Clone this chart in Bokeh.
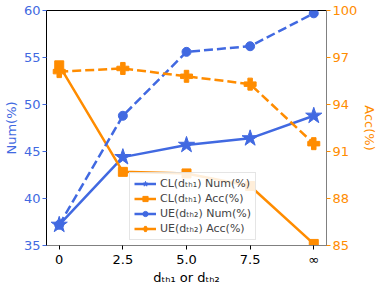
from bokeh.plotting import figure
from bokeh.models import Range1d, LinearAxis, FixedTicker, Legend, LegendItem
from bokeh.embed import file_html
from bokeh.resources import INLINE

x_labels = ["0", "2.5", "5.0", "7.5", "∞"]
x_pos = [0, 1, 2, 3, 4]
cl_num = [37.2, 44.4, 45.7, 46.4, 48.8]
ue_num = [37.2, 48.8, 55.6, 56.2, 59.7]
cl_acc = [96.5, 89.7, 89.6, 88.8, 85.1]
ue_acc = [96.1, 96.3, 95.8, 95.3, 91.5]
num_ticks = [35, 40, 45, 50, 55, 60]
acc_ticks = [85, 88, 91, 94, 97, 100]

BLUE = "#4169E1"
ORANGE = "#FF8C00"
FONT = "DejaVu Sans"

p = figure(width=388, height=287, output_backend="svg", toolbar_location=None,
           x_range=Range1d(-0.2, 4.2), y_range=Range1d(35, 60),
           min_border_left=37, min_border_right=62, min_border_top=10, min_border_bottom=0)
p.extra_y_ranges = {"acc": Range1d(85, 100)}
p.xgrid.visible = False
p.ygrid.visible = False
p.outline_line_color = "black"
p.outline_line_alpha = 1

def style_axis(ax, color, label_color):
    ax.major_tick_out = 4
    ax.major_tick_in = 0
    ax.minor_tick_line_color = None
    ax.major_label_text_font = FONT
    ax.axis_label_text_font = FONT
    ax.axis_label_text_font_style = "normal"
    ax.major_label_text_color = label_color
    ax.axis_label_text_color = label_color
    ax.axis_line_color = color
    ax.major_tick_line_color = color

yl = p.yaxis[0]
yl.ticker = FixedTicker(ticks=num_ticks)
yl.axis_label = "Num(%)"
style_axis(yl, "black", BLUE)
yl.major_tick_line_color = BLUE
yl.major_label_text_font_size = "13px"
yl.axis_label_text_font_size = "13px"
yl.major_label_standoff = 2
yl.axis_label_standoff = 2

yr = LinearAxis(y_range_name="acc", ticker=FixedTicker(ticks=acc_ticks), axis_label="Acc(%)")
style_axis(yr, "gray", ORANGE)
yr.major_tick_line_color = ORANGE
yr.major_label_text_font_size = "13px"
yr.axis_label_text_font_size = "13px"
yr.major_label_standoff = 2
yr.axis_label_standoff = 2
p.add_layout(yr, "right")

xa = p.xaxis[0]
xa.ticker = FixedTicker(ticks=x_pos)
xa.major_label_overrides = {i: s for i, s in zip(x_pos, x_labels)}
xa.axis_label = "dₜₕ₁ or dₜₕ₂"
style_axis(xa, "gray", "black")
xa.major_tick_line_color = "black"
xa.major_label_text_font_size = "13px"
xa.axis_label_text_font_size = "13px"
xa.major_label_standoff = 2
xa.axis_label_standoff = 0

r1 = p.line(x_pos, cl_num, color=BLUE, line_width=2.5)
m1 = p.scatter(x_pos, cl_num, marker="star", size=17, color=BLUE)
r2 = p.line(x_pos, cl_acc, color=ORANGE, line_width=2.5, y_range_name="acc")
m2 = p.scatter(x_pos, cl_acc, marker="square", size=9, color=ORANGE, y_range_name="acc")
r3 = p.line(x_pos, ue_num, color=BLUE, line_width=2.5, line_dash="9 4")
m3 = p.scatter(x_pos, ue_num, marker="circle", size=9, color=BLUE)
r4 = p.line(x_pos, ue_acc, color=ORANGE, line_width=2.5, line_dash="9 4", y_range_name="acc")
m4 = p.scatter(x_pos, ue_acc, marker="plus", size=12, color=ORANGE, y_range_name="acc")

legend = Legend(items=[
    LegendItem(label="CL(dₜₕ₁) Num(%)", renderers=[r1, m1]),
    LegendItem(label="CL(dₜₕ₁) Acc(%)", renderers=[r2, m2]),
    LegendItem(label="UE(dₜₕ₂) Num(%)", renderers=[r3, m3]),
    LegendItem(label="UE(dₜₕ₂) Acc(%)", renderers=[r4, m4]),
], location=(83, 5))
legend.label_text_font = FONT
legend.label_text_font_size = "11px"
legend.glyph_width = 22
legend.glyph_height = 13
legend.spacing = 2
legend.padding = 4
legend.margin = 0
legend.label_height = 13
legend.label_standoff = 4
legend.border_line_color = "#cccccc"
legend.background_fill_alpha = 0.85
p.add_layout(legend, "center")

open("out.html", "w").write(file_html(p, INLINE))
